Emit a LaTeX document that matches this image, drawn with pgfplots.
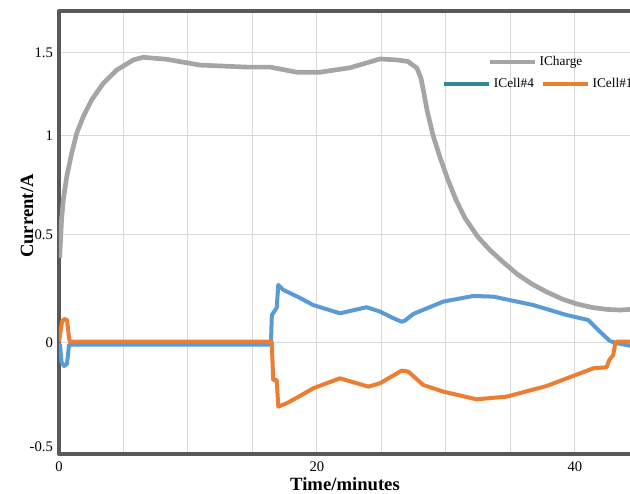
\documentclass[border=0pt]{standalone}
\usepackage{fontspec}
\setmainfont{Liberation Serif}
\usepackage{pgfplots}
\pgfplotsset{compat=1.18}
\definecolor{cgray}{HTML}{A5A5A5}
\definecolor{cblue}{HTML}{5B9BD5}
\definecolor{corange}{HTML}{ED7D31}
\definecolor{cteal}{HTML}{31859C}
\definecolor{cgrid}{HTML}{D9D9D9}
\definecolor{cspine}{HTML}{595959}
\pgfplotsset{
  common/.style={
    scale only axis, width=445pt, height=332.25pt,
    xmin=0, xmax=46, ymin=-0.534, ymax=1.749,
    y coord trafo/.code={\pgfmathparse{(##1<0) ? (111+208*##1) : ((##1<0.5) ? (111+216.6*##1) : ((##1<1) ? (219.3+198.8*(##1-0.5)) : (318.7+166*(##1-1))))}},
    y coord inv trafo/.code={\pgfmathparse{(##1<111) ? ((##1-111)/208) : ((##1<219.3) ? ((##1-111)/216.6) : ((##1<318.7) ? (0.5+(##1-219.3)/198.8) : (1+(##1-318.7)/166)))}},
  },
  legend image code/.code={\draw[#1] (0pt,0pt) -- (34pt,0pt);},
}
\begin{document}
\begin{tikzpicture}
\useasboundingbox (-44.25pt,-29.25pt) rectangle (428.25pt,340.5pt);
\begin{scope}
\clip (-44.25pt,-29.25pt) rectangle (428.25pt,340.5pt);
\begin{axis}[common,
  axis line style={draw=cspine, line width=3pt},
  xtick={0,5,...,45},
  xticklabels={0,,,,20,,,,40,},
  ytick={0,0.5,1,1.5},
  yticklabels={0,0.5,1,1.5},
  extra y ticks={-0.5}, extra y tick labels={-0.5},
  extra y tick style={grid=none},
  major tick length=0pt,
  grid=major,
  major grid style={draw=cgrid, line width=0.75pt},
  tick label style={font=\fontsize{11}{13}\selectfont},
  yticklabel style={xshift=-1pt},
  xticklabel style={yshift=-2pt},
  xlabel={Time/minutes}, ylabel={Current/A},
  label style={font=\fontsize{14}{16}\selectfont\bfseries},
  xlabel style={at={(axis description cs:0.482,-0.068)}, anchor=center},
  ylabel style={at={(axis description cs:-0.054,0.537)}, anchor=center},
  legend columns=2,
  legend style={draw=none, fill=none, inner sep=0pt,
    at={(axis description cs:0.645,0.835)}, anchor=west,
    font=\fontsize{10}{11}\selectfont,
    /tikz/every even column/.append style={column sep=3pt}},
  line join=round,
]
\addplot[cgray, line width=3.5pt, forget plot] coordinates {
(0.05,0.392)(0.12,0.476)(0.2,0.576)(0.33,0.675)(0.60,0.792)(0.98,0.909)(1.37,1.012)
(1.88,1.112)(2.53,1.213)(3.43,1.313)(4.47,1.393)(5.76,1.454)(6.53,1.470)
(8.35,1.458)(10.93,1.423)(14.57,1.411)(16.36,1.411)(18.45,1.380)(20.23,1.380)
(22.56,1.407)(24.88,1.460)(26.2,1.454)(27.05,1.445)(27.75,1.405)(28.06,1.345)
(28.29,1.255)(28.53,1.152)(28.99,1.002)(29.53,0.891)(30.16,0.775)(30.78,0.675)
(31.47,0.584)(32.48,0.489)(33.41,0.429)(34.42,0.374)(35.5,0.319)(36.67,0.272)
(37.83,0.235)(39.0,0.203)(40.16,0.180)(41.32,0.164)(42.49,0.155)(43.5,0.152)
(44.26,0.155)(46,0.162)
};
\addplot[cblue, line width=3pt, forget plot] coordinates {
(0,-0.008)(0.08,-0.008)(0.19,-0.091)(0.39,-0.111)(0.62,-0.101)(0.78,-0.008)
(16.43,-0.008)(16.5,0.129)(16.88,0.162)(17.0,0.268)(17.39,0.245)(18.68,0.208)
(19.71,0.175)(21.78,0.137)(23.85,0.165)(24.88,0.145)(25.89,0.115)(26.57,0.098)
(26.82,0.103)(27.47,0.134)(29.79,0.191)(32.12,0.217)(33.67,0.214)(36.77,0.175)
(39.36,0.129)(41.03,0.106)(41.94,0.052)(42.71,0.009)(43.23,-0.001)(44.26,-0.013)
(46,-0.013)
};
\addlegendimage{cteal, line width=3pt}
\addlegendentry{ICell\#4}
\addplot[corange, line width=3pt] coordinates {
(0,0.006)(0.08,0.037)(0.23,0.097)(0.39,0.111)(0.62,0.106)(0.78,0.023)(0.85,0.006)
(16.49,0.006)(16.61,-0.178)(16.88,-0.178)(17.0,-0.306)(17.65,-0.290)(18.68,-0.255)
(19.71,-0.218)(21.78,-0.170)(23.98,-0.210)(24.88,-0.194)(26.57,-0.133)(27.08,-0.138)
(28.24,-0.202)(29.79,-0.234)(32.38,-0.271)(34.71,-0.258)(37.8,-0.207)(41.42,-0.122)
(42.45,-0.117)(42.66,-0.082)(42.97,-0.058)(43.1,-0.01)(43.23,0.006)(46,0.006)
};
\addlegendentry{ICell\#1}
\end{axis}
\begin{axis}[common, hide axis,
  legend style={draw=none, fill=none, inner sep=0pt,
    at={(axis description cs:0.722,0.885)}, anchor=west,
    font=\fontsize{10}{11}\selectfont},
]
\addlegendimage{cgray, line width=3pt}
\addlegendentry{ICharge}
\end{axis}
\end{scope}
\end{tikzpicture}
\end{document}
